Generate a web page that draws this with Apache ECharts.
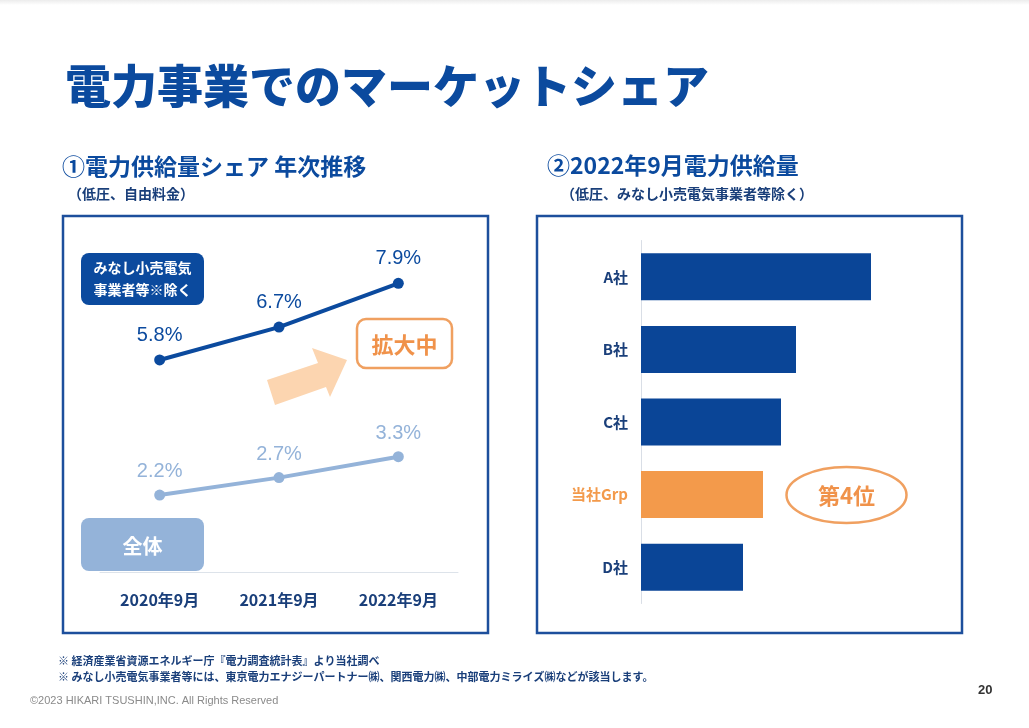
<!DOCTYPE html>
<html>
<head>
<meta charset="utf-8">
<script src="https://cdn.jsdelivr.net/npm/echarts@6/dist/echarts.min.js"></script>
<style>
html,body{margin:0;padding:0;background:#fff;}
#c{width:1029px;height:728px;}
</style>
</head>
<body>
<div id="c"></div>
<script>
// ---- data ----
var years = ['2020年9月', '2021年9月', '2022年9月'];
var shareExclMinashi = [5.8, 6.7, 7.9];   // みなし小売電気事業者等※除く
var shareTotal = [2.2, 2.7, 3.3];         // 全体
var companies = ['A社', 'B社', 'C社', '当社Grp', 'D社'];
var supply2022 = [230, 155, 140, 122, 102]; // relative supply volume (estimated)

var BLUE = '#0b4a9e';
var LIGHT = '#94b3d9';
var ORANGE = '#f39a4b';
var JP = '"Noto Sans CJK JP", "Noto Sans", sans-serif';
var NUM = '"Liberation Sans", Arial, sans-serif';

var chart = echarts.init(document.getElementById('c'), null, {renderer: 'canvas'});

var barData = supply2022.map(function (v, i) {
  return {value: v, itemStyle: {color: companies[i] === '当社Grp' ? ORANGE : '#0a4597'}};
});

function txt(x, y, text, size, color, opts) {
  opts = opts || {};
  return {
    type: 'text', x: x, y: y, silent: true,
    style: {
      text: text, fontSize: size, fill: color,
      fontFamily: opts.family || JP, fontWeight: opts.weight || 'bold',
      textAlign: opts.align || 'left', textVerticalAlign: 'middle'
    },
    z: 10
  };
}

var option = {
  backgroundColor: '#ffffff',
  animation: false,
  grid: [
    {left: 100, width: 358, top: 230, bottom: 149},
    {left: 641, width: 300, top: 240.5, bottom: 124.5}
  ],
  xAxis: [
    {
      type: 'category', gridIndex: 0, data: years, boundaryGap: true,
      axisLine: {show: true, lineStyle: {color: '#dde3ea', width: 1}},
      axisTick: {show: false},
      axisLabel: {color: '#1a3f7a', fontSize: 16, fontWeight: 'bold', fontFamily: JP, margin: 13}
    },
    {
      type: 'value', gridIndex: 1, min: 0, max: 300, show: false
    }
  ],
  yAxis: [
    {type: 'value', gridIndex: 0, min: -0.197, max: 9.359, show: false},
    {type: 'value', gridIndex: 0, min: -0.212, max: 9.811, show: false},
    {
      type: 'category', gridIndex: 1, data: companies, inverse: true,
      axisLine: {show: true, lineStyle: {color: '#d9dee6', width: 1}},
      axisTick: {show: false},
      axisLabel: {
        fontSize: 15, fontWeight: 'bold', fontFamily: JP, margin: 13,
        color: function (v) { return v === '当社Grp' ? ORANGE : '#1a3f7a'; }
      }
    }
  ],
  series: [
    {
      type: 'line', xAxisIndex: 0, yAxisIndex: 0, data: shareExclMinashi,
      symbol: 'circle', symbolSize: 11,
      lineStyle: {color: BLUE, width: 4},
      itemStyle: {color: BLUE},
      label: {show: true, position: 'top', distance: 9, formatter: '{c}%',
        color: BLUE, fontSize: 20, fontFamily: NUM}
    },
    {
      type: 'line', xAxisIndex: 0, yAxisIndex: 1, data: shareTotal,
      symbol: 'circle', symbolSize: 11,
      lineStyle: {color: LIGHT, width: 4},
      itemStyle: {color: LIGHT},
      label: {show: true, position: 'top', distance: 8, formatter: '{c}%',
        color: LIGHT, fontSize: 20, fontFamily: NUM}
    },
    {
      type: 'bar', xAxisIndex: 1, yAxisIndex: 2, data: barData, barWidth: 47
    }
  ],
  graphic: [
    {type: 'rect', shape: {x: 0, y: 0, width: 1029, height: 5}, silent: true,
      style: {fill: new echarts.graphic.LinearGradient(0, 0, 0, 1, [{offset: 0, color: '#ececec'}, {offset: 1, color: '#ffffff'}])}},
    txt(65, 86, '電力事業でのマーケットシェア', 46, BLUE, {weight: 900}),
    txt(62, 166, '①電力供給量シェア 年次推移', 23, BLUE),
    txt(68, 194, '（低圧、自由料金）', 14, '#1a3f7a'),
    txt(547, 165, '②2022年9月電力供給量', 23, BLUE),
    txt(561, 194, '（低圧、みなし小売電気事業者等除く）', 14, '#1a3f7a'),
    {type: 'rect', shape: {x: 63, y: 216, width: 425, height: 417}, silent: true,
      style: {fill: 'none', stroke: '#1d4f9c', lineWidth: 2.5}, z: 1},
    {type: 'rect', shape: {x: 537, y: 216, width: 425, height: 417}, silent: true,
      style: {fill: 'none', stroke: '#1d4f9c', lineWidth: 2.5}, z: 1},
    {type: 'rect', shape: {x: 81, y: 253, width: 123, height: 52, r: 8}, silent: true,
      style: {fill: '#0b4a9e'}, z: 5},
    txt(142.5, 268, 'みなし小売電気', 14, '#ffffff', {align: 'center'}),
    txt(142.5, 290, '事業者等※除く', 14, '#ffffff', {align: 'center'}),
    {type: 'rect', shape: {x: 81, y: 518, width: 123, height: 53, r: 8}, silent: true,
      style: {fill: LIGHT}, z: 5},
    txt(142.5, 546, '全体', 20, '#ffffff', {align: 'center'}),
    {type: 'polygon', silent: true, z: 2,
      shape: {points: [[267, 380], [318, 363], [312, 348], [347, 360], [330, 397], [326, 387], [275, 405]]},
      style: {fill: '#fcd5b0'}},
    {type: 'rect', shape: {x: 357, y: 319, width: 95, height: 49, r: 9}, silent: true,
      style: {fill: '#ffffff', stroke: '#f0a060', lineWidth: 2.5}, z: 5},
    txt(404.5, 345, '拡大中', 22, '#f0924a', {align: 'center'}),
    {type: 'ellipse', shape: {cx: 846.5, cy: 495, rx: 60, ry: 28}, silent: true,
      style: {fill: 'none', stroke: '#f0a060', lineWidth: 2.5}, z: 5},
    txt(846.5, 496, '第4位', 22, '#f0924a', {align: 'center'}),
    txt(58, 661, '※ 経済産業省資源エネルギー庁『電力調査統計表』より当社調べ', 11, '#1a3f7a'),
    txt(58, 677, '※ みなし小売電気事業者等には、東京電力エナジーパートナー㈱、関西電力㈱、中部電力ミライズ㈱などが該当します。', 11, '#1a3f7a'),
    txt(30, 701, '©2023 HIKARI TSUSHIN,INC. All Rights Reserved', 11, '#8a8a8a', {family: NUM, weight: 'normal'}),
    txt(978, 690, '20', 13, '#333333', {family: NUM, weight: 'bold'})
  ]
};
chart.setOption(option);
</script>
</body>
</html>
